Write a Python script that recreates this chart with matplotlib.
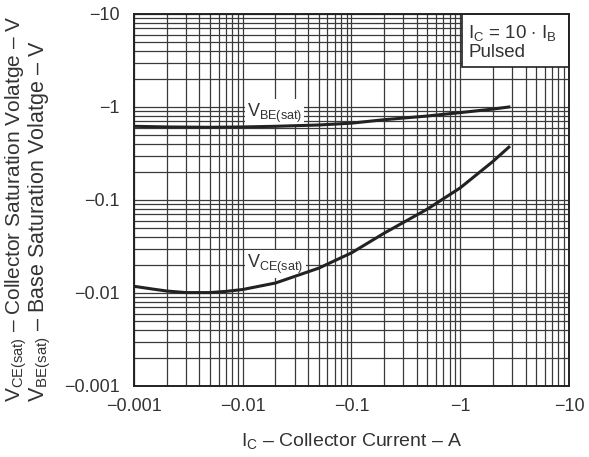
import matplotlib
matplotlib.use('Agg')
import matplotlib.pyplot as plt
from matplotlib.patches import Rectangle

plt.rcParams['font.family'] = ['Liberation Sans', 'DejaVu Sans']
plt.rcParams['mathtext.fontset'] = 'custom'
plt.rcParams['mathtext.rm'] = 'Liberation Sans'

# collector current (A, magnitude) and saturation voltages (V, magnitude)
ic_be = [0.001, 0.002, 0.005, 0.01, 0.02, 0.05, 0.1, 0.2, 0.5, 1, 2, 2.8]
vbe_sat = [0.62, 0.61, 0.605, 0.61, 0.62, 0.64, 0.67, 0.73, 0.80, 0.87, 0.95, 1.0]

ic_ce = [0.001, 0.0015, 0.002, 0.003, 0.005, 0.007, 0.01, 0.02, 0.05, 0.1,
         0.2, 0.5, 1, 2, 2.8]
vce_sat = [0.0118, 0.011, 0.0105, 0.0101, 0.0101, 0.0104, 0.0109, 0.0128,
           0.0185, 0.027, 0.044, 0.08, 0.135, 0.26, 0.37]

x_ticks = [0.001, 0.01, 0.1, 1, 10]
x_tick_labels = ['\u22120.001', '\u22120.01', '\u22120.1', '\u22121', '\u221210']
y_ticks = [0.001, 0.01, 0.1, 1, 10]
y_tick_labels = ['\u22120.001', '\u22120.01', '\u22120.1', '\u22121', '\u221210']

DASH = '\u2013'

fig = plt.figure(figsize=(5.89, 4.57), dpi=100)
ax = fig.add_axes([0.2275, 0.1554, 0.7385, 0.814])

ax.set_xscale('log')
ax.set_yscale('log')
ax.set_xlim(0.001, 10)
ax.set_ylim(0.001, 10)

ax.grid(which='both', color='#3a3a3a', lw=0.9)
ax.set_axisbelow(True)

ax.plot(ic_be, vbe_sat, color='#222222', lw=2.2, zorder=3)
ax.plot(ic_ce, vce_sat, color='#222222', lw=2.2, zorder=3)

ax.set_xticks(x_ticks)
ax.set_xticklabels(x_tick_labels)
ax.set_yticks(y_ticks)
ax.set_yticklabels(y_tick_labels)
ax.tick_params(which='both', length=0, labelsize=13, colors='#333333')
ax.tick_params(axis='x', pad=9)
ax.tick_params(axis='y', pad=10)
for s in ax.spines.values():
    s.set_linewidth(1.4)
    s.set_color('#222222')

lab_box = dict(facecolor='white', edgecolor='none', pad=1.5)
ax.text(0.0109, 0.86, r'V$_\mathregular{BE(sat)}$', fontsize=13, color='#333333',
        va='center', ha='left', bbox=lab_box, zorder=2)
ax.text(0.011, 0.0204, r'V$_\mathregular{CE(sat)}$', fontsize=13, color='#333333',
        va='center', ha='left', bbox=lab_box, zorder=2)

ax.add_patch(Rectangle((0.754, 0.8575), 0.246, 0.1425, transform=ax.transAxes,
                       facecolor='white', edgecolor='#222222', lw=1.2, zorder=2))
ax.text(0.768, 0.975, r'I$_\mathregular{C}$ = 10 $\cdot$ I$_\mathregular{B}$' + '\nPulsed',
        transform=ax.transAxes, fontsize=13.5, color='#333333', va='top', ha='left',
        linespacing=1.0, zorder=3)

ax.set_xlabel(r'I$_\mathregular{C}$ ' + DASH + ' Collector Current ' + DASH + ' A',
              fontsize=14, color='#333333', labelpad=12)

fig.text(0.028, 1 - 402 / 457,
         r'V$_\mathregular{CE(sat)}$ ' + DASH + ' Collector Saturation Volatge ' + DASH + ' V',
         rotation=90, fontsize=15, color='#333333', ha='center', va='bottom')
fig.text(0.067, 1 - 402 / 457,
         r'V$_\mathregular{BE(sat)}$ ' + DASH + ' Base Saturation Volatge ' + DASH + ' V',
         rotation=90, fontsize=15.5, color='#333333', ha='center', va='bottom')

fig.savefig('out.png', dpi=100)
